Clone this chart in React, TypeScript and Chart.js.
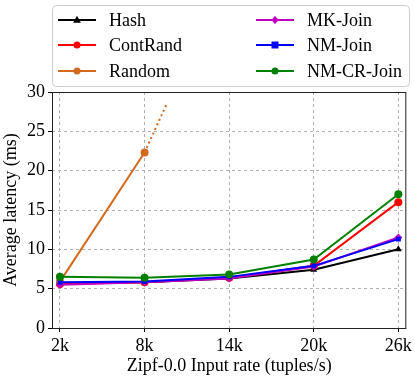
import React, { useEffect, useRef } from "react";
import { Chart, registerables } from "chart.js";

Chart.register(...registerables);

const xTicks = [2000, 8000, 14000, 20000, 26000];
const xTickLabels = ["2k", "8k", "14k", "20k", "26k"];
const yTicks = [0, 5, 10, 15, 20, 25, 30];

const hash = [5.7, 5.8, 6.3, 7.4, 10.0];
const contRand = [5.6, 5.8, 6.4, 7.9, 16.0];
const randomX = [2000, 8000];
const random = [5.9, 22.3];
const randomExtX = [8000, 9600];
const randomExt = [22.3, 28.6];
const mkJoin = [5.5, 5.8, 6.3, 7.8, 11.5];
const nmJoin = [5.8, 5.9, 6.5, 7.9, 11.3];
const nmCrJoin = [6.5, 6.4, 6.8, 8.7, 17.0];

const FONT = "'Liberation Serif', 'DejaVu Serif', serif";

type Series = { label: string; color: string; marker: string; xs: number[]; ys: number[] };

const seriesList: Series[] = [
  { label: "Hash", color: "#000000", marker: "triangle", xs: xTicks, ys: hash },
  { label: "ContRand", color: "#ff0000", marker: "circle", xs: xTicks, ys: contRand },
  { label: "Random", color: "#d2691e", marker: "circle", xs: randomX, ys: random },
  { label: "MK-Join", color: "#bf00bf", marker: "rectRot", xs: xTicks, ys: mkJoin },
  { label: "NM-Join", color: "#0000ff", marker: "rect", xs: xTicks, ys: nmJoin },
  { label: "NM-CR-Join", color: "#008000", marker: "circle", xs: xTicks, ys: nmCrJoin },
];

const legendPlugin = {
  id: "customLegend",
  afterDraw(chart: any) {
    const ctx = chart.ctx;
    const { left, top, right, bottom } = chart.chartArea;
    ctx.save();
    // frame
    ctx.strokeStyle = "#222";
    ctx.lineWidth = 1;
    ctx.setLineDash([]);
    ctx.strokeRect(left + 0.5, top + 0.5, right - left - 1, bottom - top);
    // legend box
    const bx = 52.5, by = 5.5, bw = 357, bh = 81, r = 4;
    ctx.fillStyle = "rgba(255,255,255,0.8)";
    ctx.strokeStyle = "#cccccc";
    ctx.beginPath();
    ctx.moveTo(bx + r, by);
    ctx.lineTo(bx + bw - r, by);
    ctx.quadraticCurveTo(bx + bw, by, bx + bw, by + r);
    ctx.lineTo(bx + bw, by + bh - r);
    ctx.quadraticCurveTo(bx + bw, by + bh, bx + bw - r, by + bh);
    ctx.lineTo(bx + r, by + bh);
    ctx.quadraticCurveTo(bx, by + bh, bx, by + bh - r);
    ctx.lineTo(bx, by + r);
    ctx.quadraticCurveTo(bx, by, bx + r, by);
    ctx.closePath();
    ctx.fill();
    ctx.stroke();
    const rows = [20, 45, 71];
    const cols = [{ l: 58, t: 109 }, { l: 256, t: 307 }];
    ctx.font = `18px ${FONT}`;
    ctx.textBaseline = "middle";
    seriesList.forEach((s, i) => {
      const c = cols[Math.floor(i / 3)];
      const y = rows[i % 3];
      ctx.strokeStyle = s.color;
      ctx.lineWidth = 2;
      ctx.beginPath();
      ctx.moveTo(c.l, y);
      ctx.lineTo(c.l + 38, y);
      ctx.stroke();
      ctx.fillStyle = s.color;
      ctx.lineWidth = 1;
      (Chart as any).helpers?.drawPoint;
      drawMarker(ctx, s.marker, c.l + 19, y, 3.5);
      ctx.fillStyle = "#000";
      ctx.fillText(s.label, c.t, y + 1);
    });
    ctx.restore();
  },
};

function drawMarker(ctx: CanvasRenderingContext2D, m: string, x: number, y: number, r: number) {
  ctx.beginPath();
  if (m === "circle") {
    ctx.arc(x, y, r, 0, Math.PI * 2);
  } else if (m === "triangle") {
    ctx.moveTo(x, y - r * 1.2);
    ctx.lineTo(x + r * 1.1, y + r * 0.8);
    ctx.lineTo(x - r * 1.1, y + r * 0.8);
    ctx.closePath();
  } else if (m === "rectRot") {
    ctx.moveTo(x, y - r * 1.2);
    ctx.lineTo(x + r, y);
    ctx.lineTo(x, y + r * 1.2);
    ctx.lineTo(x - r, y);
    ctx.closePath();
  } else {
    ctx.rect(x - r, y - r, r * 2, r * 2);
  }
  ctx.fill();
}

export default function App() {
  const ref = useRef<HTMLCanvasElement>(null);
  useEffect(() => {
    if (!ref.current) return;
    const datasets: any[] = seriesList.map((s, i) => ({
      label: s.label,
      data: s.xs.map((x, j) => ({ x, y: s.ys[j] })),
      borderColor: s.color,
      backgroundColor: s.color,
      pointStyle: s.marker,
      pointRadius: s.marker === "rect" ? 3.5 : 4,
      pointBorderWidth: 0,
      borderWidth: 2,
      order: 10 - i,
    }));
    datasets.push({
      label: "Random-ext",
      data: randomExtX.map((x, j) => ({ x, y: randomExt[j] })),
      borderColor: "#d2691e",
      backgroundColor: "#d2691e",
      borderDash: [2, 3],
      borderWidth: 2,
      pointRadius: 0,
      order: 8,
    });
    const chart = new Chart(ref.current, {
      type: "line",
      data: { datasets },
      plugins: [legendPlugin],
      options: {
        animation: false,
        responsive: false,
        maintainAspectRatio: false,
        layout: { padding: { left: 0, right: 7, top: 92, bottom: 0 } },
        plugins: { legend: { display: false }, tooltip: { enabled: false } },
        scales: {
          x: {
            type: "linear",
            min: 1435,
            max: 26565,
            afterBuildTicks: (scale: any) => {
              scale.ticks = xTicks.map((v) => ({ value: v }));
            },
            afterFit: (scale: any) => {
              scale.height = 49;
            },
            ticks: {
              autoSkip: false,
              maxRotation: 0,
              padding: 3,
              color: "#000",
              font: { family: FONT, size: 18 },
              callback: (v: any) => {
                const i = xTicks.indexOf(Number(v));
                return i >= 0 ? xTickLabels[i] : "";
              },
            },
            grid: { color: "#b0b0b0", lineWidth: 1, tickColor: "#000", tickLength: 4, drawOnChartArea: true },
            border: { display: false, dash: [3, 3] },
            title: {
              display: true,
              text: "Zipf-0.0 Input rate (tuples/s)",
              color: "#000",
              font: { family: FONT, size: 18 },
              padding: { top: 0, bottom: 0 },
            },
          },
          y: {
            type: "linear",
            min: 0,
            max: 30,
            afterBuildTicks: (scale: any) => {
              scale.ticks = yTicks.map((v) => ({ value: v }));
            },
            afterFit: (scale: any) => {
              scale.width = 52;
            },
            ticks: {
              padding: 3,
              color: "#000",
              font: { family: FONT, size: 18 },
            },
            grid: { color: "#b0b0b0", lineWidth: 1, tickColor: "#000", tickLength: 4 },
            border: { display: false, dash: [3, 3] },
            title: {
              display: true,
              text: "Average latency (ms)",
              color: "#000",
              font: { family: FONT, size: 18 },
              padding: { top: 0, bottom: 2 },
            },
          },
        },
      },
    } as any);
    return () => chart.destroy();
  }, []);
  return (
    <div style={{ position: "fixed", left: 0, top: 0, width: 415, height: 377 }}>
      <canvas ref={ref} width={415} height={377} style={{ width: 415, height: 377 }} />
    </div>
  );
}
